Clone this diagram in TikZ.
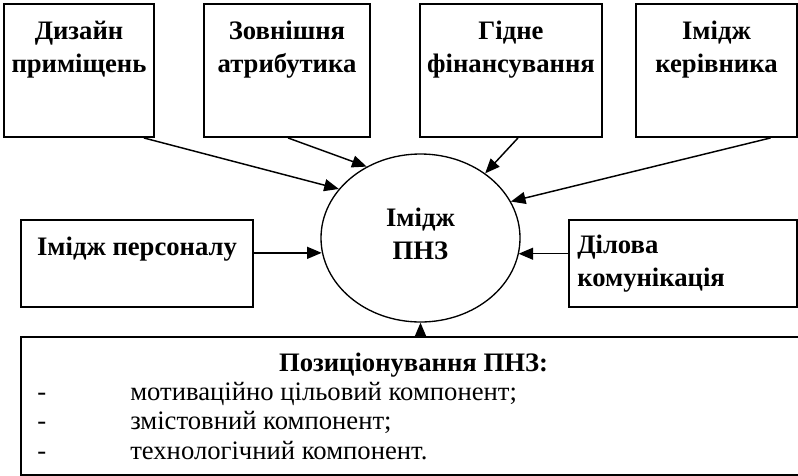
\documentclass[tikz,border=0pt]{standalone}
\usepackage{fontspec}
\setmainfont{Liberation Serif}
\usetikzlibrary{shapes.geometric,arrows.meta,calc}
\begin{document}
\begin{tikzpicture}[x=0.75pt,y=-0.75pt,
  boxst/.style={draw, line width=1.4pt, inner sep=0pt},
  ttl/.style={font=\fontsize{20}{24.75}\selectfont\bfseries, align=center, inner sep=0pt, anchor=north},
  ltxt/.style={font=\fontsize{20}{24.75}\selectfont\bfseries, align=left, inner sep=0pt, anchor=north west},
  btitle/.style={font=\fontsize{20}{24}\selectfont\bfseries, inner sep=0pt, anchor=base},
  bline/.style={font=\fontsize{20}{24}\selectfont, inner sep=0pt, anchor=base west},
  arr/.style={line width=1.1pt, -{Triangle[length=11pt,width=9pt]}},
]
\useasboundingbox (0,0) rectangle (798,475);
% top boxes
\node[boxst, minimum width=112.5pt, minimum height=99.75pt] (b1) at (79,70.5) {};
\node[boxst, minimum width=124.5pt, minimum height=99.75pt] (b2) at (287,70.5) {};
\node[boxst, minimum width=136.5pt, minimum height=99.75pt] (b3) at (511,70.5) {};
\node[boxst, minimum width=120.75pt, minimum height=99.75pt] (b4) at (716.5,70.5) {};
\node[ttl] (t1) at (79,21) {Дизайн\\приміщень};
\node[ttl] (t2) at (287,21) {Зовнішня\\атрибутика};
\node[ttl] (t3) at (511,21) {Гідне\\фінансування};
\node[ttl] (t4) at (716.5,21) {Імідж\\керівника};
% side boxes
\node[boxst, minimum width=174pt, minimum height=65.25pt] (b5) at (137,263.5) {};
\node[ttl] (t5) at (137,237) {Імідж персоналу};
\node[boxst, minimum width=171pt, minimum height=65.25pt] (b6) at (683,263.5) {};
\node[ltxt] (t6) at (577,235) {Ділова\\комунікація};
% ellipse
\node[draw, ellipse, line width=1pt, minimum width=149.25pt, minimum height=126pt, inner sep=0pt] (ell) at (420.5,238) {};
\node[ttl] (te) at (420.5,208) {Імідж\\ПНЗ};
% bottom box
\node[boxst, minimum width=593.25pt, minimum height=103.5pt] (b7) at (416.5,406) {};
\node[btitle] (bt) at (413.5,371) {Позиціонування ПНЗ:};
\node[bline] (d1) at (37,400) {-};
\node[bline] (l1) at (130,400) {мотиваційно цільовий компонент;};
\node[bline] (d2) at (37,429.5) {-};
\node[bline] (l2) at (130,429.5) {змістовний компонент;};
\node[bline] (d3) at (37,459) {-};
\node[bline] (l3) at (130,459) {технологічний компонент.};
% connectors
\coordinate (s1) at ($(b1.south west)!0.927!(b1.south east)$);
\coordinate (s2) at ($(b2.south west)!0.506!(b2.south east)$);
\coordinate (s3) at ($(b3.south west)!0.538!(b3.south east)$);
\coordinate (s4) at ($(b4.south west)!0.832!(b4.south east)$);
\coordinate (s5) at ($(b5.north east)!0.38!(b5.south east)$);
\coordinate (s6) at ($(b6.north west)!0.39!(b6.south west)$);
\draw[arr] (s1) -- (ell.149.2);
\draw[arr] (s2) -- (ell.127.3);
\draw[arr] (s3) -- (ell.45.6);
\draw[arr] (s4) -- (ell.22.5);
\draw[arr] (s5) -- (ell.188.7 |- s5);
\draw[arr] (s6) -- (ell.350.7 |- s6);
\draw[arr] (ell.south |- b7.north) -- (ell.south);
\end{tikzpicture}
\end{document}
